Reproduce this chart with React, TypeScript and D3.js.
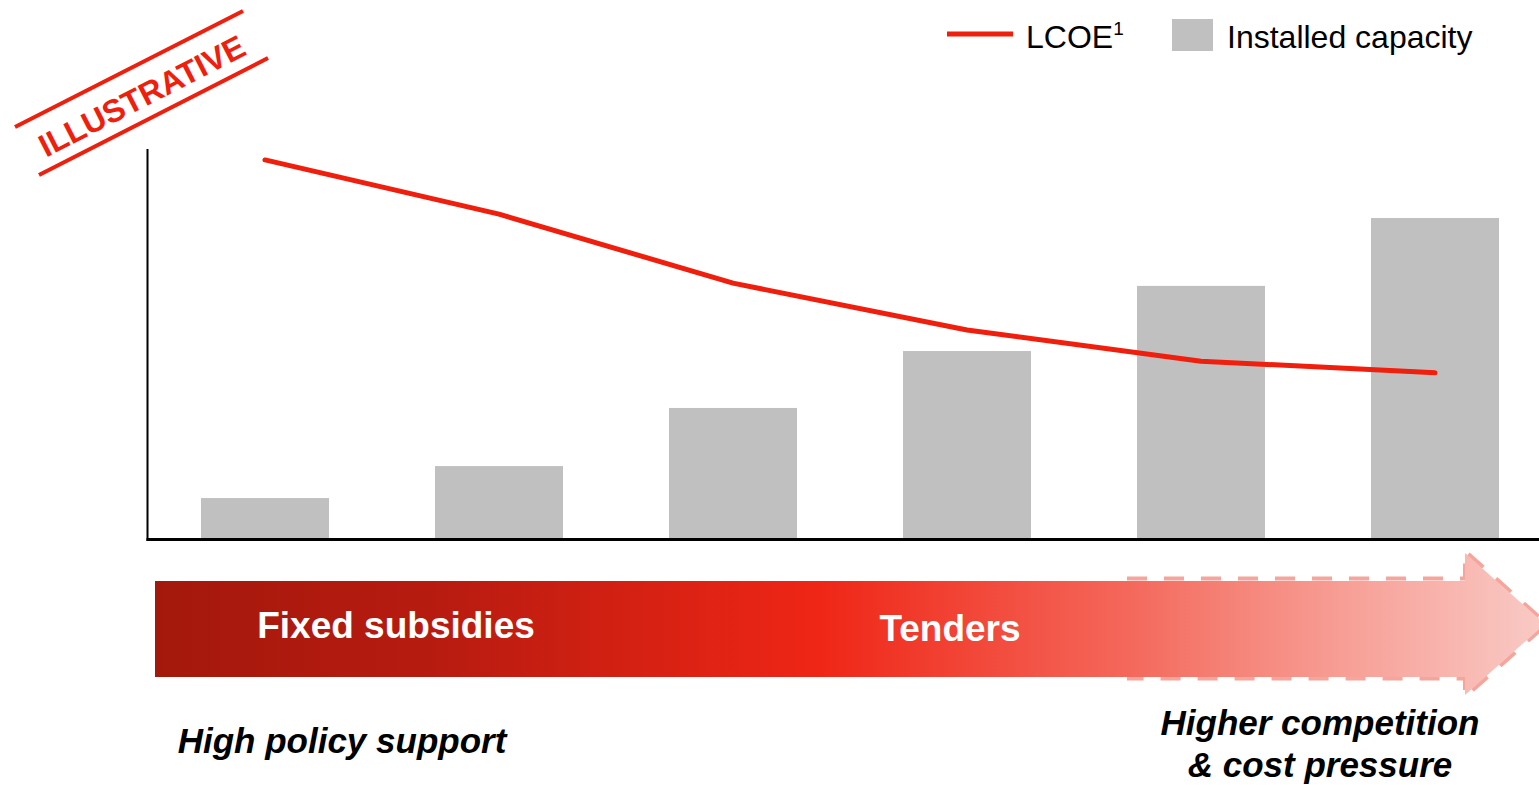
import React from "react";
import * as d3 from "d3";

const categories = ["P1", "P2", "P3", "P4", "P5", "P6"];
const capacity = [10.5, 18.7, 33.6, 48.2, 64.9, 82.3];
const lcoe = [97.2, 83.3, 65.6, 53.6, 45.6, 42.6];
const legendLabels = ["LCOE", "Installed capacity"];
const phaseLabels = ["Fixed subsidies", "Tenders"];
const bottomLeft = ["High policy support"];
const bottomRight = ["Higher competition", "& cost pressure"];

const W = 1539;
const H = 785;
const RED = "#f01e0c";
const FONT = "'Liberation Sans', Arial, Helvetica, sans-serif";

export default function App() {
  const x = d3
    .scaleBand<string>()
    .domain(categories)
    .range([148, 1552])
    .paddingInner(0.453)
    .paddingOuter(0.2265);
  const y = d3.scaleLinear().domain([0, 100]).range([539, 149]);

  const line = d3
    .line<number>()
    .x((_, i) => (x(categories[i]) as number) + x.bandwidth() / 2)
    .y((d) => y(d));

  // arrow geometry
  const bodyL = 155, bodyR = 1465, bodyT = 581, bodyB = 677;
  const headT = 553, headB = 695, tipX = 1545, tipY = 624;
  const arrowPath = `M${bodyL},${bodyT} L${bodyR},${bodyT} L${bodyR},${headT} L${tipX},${tipY} L${bodyR},${headB} L${bodyR},${bodyB} L${bodyL},${bodyB} Z`;
  const dashPath = `M1127,578.5 L${bodyR},578.5 L${bodyR},${headT - 2} L${tipX + 2},${tipY} L${bodyR},${headB + 2} L${bodyR},678.5 L1127,678.5`;

  return (
    <svg
      width={W}
      height={H}
      viewBox={`0 0 ${W} ${H}`}
      style={{ position: "absolute", left: 0, top: 0, display: "block" }}
    >
      <defs>
        <linearGradient id="phaseGrad" x1={bodyL} x2={W} y1="0" y2="0" gradientUnits="userSpaceOnUse">
          <stop offset="0" stopColor="#a4180c" />
          <stop offset="0.2" stopColor="#b71b10" />
          <stop offset="0.48" stopColor="#ef2616" />
          <stop offset="0.7" stopColor="#f4675a" />
          <stop offset="0.86" stopColor="#f79f96" />
          <stop offset="1" stopColor="#f9c9c4" />
        </linearGradient>
      </defs>
      <rect x={0} y={0} width={W} height={H} fill="#fff" />

      {/* Illustrative stamp */}
      <g>
        <line x1={15} y1={127} x2={243} y2={11} stroke={RED} strokeWidth={4} />
        <line x1={39} y1={175} x2={268} y2={58} stroke={RED} strokeWidth={4} />
        <text
          transform="translate(142,96) rotate(-27.2)"
          textAnchor="middle"
          dominantBaseline="central"
          fill={RED}
          fontFamily={FONT}
          fontWeight="bold"
          fontSize={32}
        >
          ILLUSTRATIVE
        </text>
      </g>

      {/* Legend */}
      <line x1={947} y1={34} x2={1013} y2={34} stroke={RED} strokeWidth={5} />
      <text x={1026} y={48} fontFamily={FONT} fontSize={32} fill="#000">
        {legendLabels[0]}
        <tspan fontSize={19} dy={-13}>1</tspan>
      </text>
      <rect x={1172} y={19} width={41} height={32} fill="#c0c0c0" />
      <text x={1227} y={48} fontFamily={FONT} fontSize={32} fill="#000">
        {legendLabels[1]}
      </text>

      {/* Bars */}
      {capacity.map((v, i) => (
        <rect
          key={i}
          x={x(categories[i])}
          y={y(v)}
          width={x.bandwidth()}
          height={y(0) - y(v)}
          fill="#c0c0c0"
        />
      ))}

      {/* Axes */}
      <line x1={147.5} y1={149} x2={147.5} y2={541} stroke="#000" strokeWidth={2} />
      <line x1={146.5} y1={539.5} x2={W} y2={539.5} stroke="#000" strokeWidth={3} />

      {/* LCOE line */}
      <path
        d={line(lcoe) as string}
        fill="none"
        stroke={RED}
        strokeWidth={5}
        strokeLinecap="round"
        strokeLinejoin="round"
      />

      {/* Phase arrow */}
      <path d={dashPath} fill="none" stroke="#f6a59c" strokeWidth={4} strokeDasharray="20 17" />
      <path d={arrowPath} fill="url(#phaseGrad)" />
      <text
        x={396}
        y={638}
        textAnchor="middle"
        fill="#fff"
        fontFamily={FONT}
        fontWeight="bold"
        fontSize={37}
      >
        {phaseLabels[0]}
      </text>
      <text
        x={950}
        y={641}
        textAnchor="middle"
        fill="#fff"
        fontFamily={FONT}
        fontWeight="bold"
        fontSize={37}
      >
        {phaseLabels[1]}
      </text>

      {/* Bottom annotations */}
      <text
        x={342}
        y={753}
        textAnchor="middle"
        fill="#000"
        fontFamily={FONT}
        fontWeight="bold"
        fontStyle="italic"
        fontSize={35}
      >
        {bottomLeft[0]}
      </text>
      {bottomRight.map((t, i) => (
        <text
          key={i}
          x={1320}
          y={735 + i * 42}
          textAnchor="middle"
          fill="#000"
          fontFamily={FONT}
          fontWeight="bold"
          fontStyle="italic"
          fontSize={35}
        >
          {t}
        </text>
      ))}
    </svg>
  );
}
